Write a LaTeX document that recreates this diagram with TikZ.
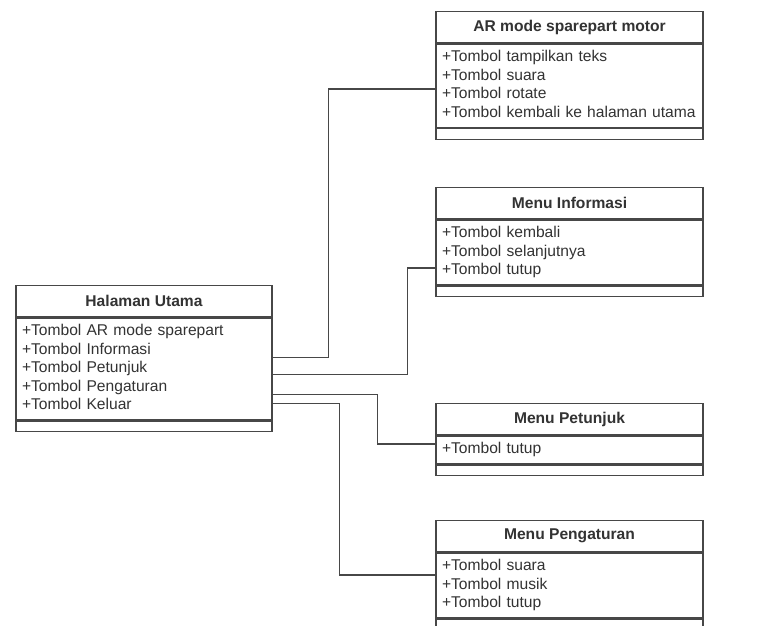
\documentclass[tikz,border=0pt]{standalone}
\usepackage{fontspec}
\setmainfont{Liberation Sans}
\usepackage{tikz}
\usetikzlibrary{positioning, calc}
\definecolor{umlline}{HTML}{474747}
\definecolor{umltext}{HTML}{333333}
\tikzset{every node/.style={font=\fontsize{15.6}{18.5}\selectfont, text=umltext}}

\begin{document}
\begin{tikzpicture}[x=1pt, y=-1pt, node distance=0pt,
    classname/.style={draw=umlline, line width=1.3pt, fill=white, anchor=north, minimum height=31pt, inner sep=0pt, font=\fontsize{15.6}{18.5}\selectfont\bfseries},
    classattr/.style={draw=umlline, line width=1.3pt, fill=white, align=left, inner xsep=6pt, inner ysep=4.75pt, execute at begin node=\strut, execute at end node=\strut},
    classops/.style={draw=umlline, line width=1.3pt, fill=white, minimum height=10.5pt, inner sep=0pt},
    link/.style={draw=umlline, line width=1.3pt}]
    \useasboundingbox (0,0) rectangle (771,626);
    \clip (0,0) rectangle (771,626);

    \node[classname, minimum width=256pt] (hu) at (144,285) {Halaman Utama};
    \node[classattr, text width=244pt, below=of hu] (hu-attr) {+Tombol AR mode sparepart\\+Tombol Informasi\\+Tombol Petunjuk\\+Tombol Pengaturan\\+Tombol Keluar};
    \node[classops, minimum width=256pt, below=of hu-attr] (hu-ops) {};

    \node[classname, minimum width=267pt] (ar) at (569.5,11) {AR mode sparepart motor};
    \node[classattr, text width=255pt, below=of ar] (ar-attr) {+Tombol tampilkan teks\\+Tombol suara\\+Tombol rotate\\+Tombol kembali ke halaman utama};
    \node[classops, minimum width=267pt, below=of ar-attr] (ar-ops) {};

    \node[classname, minimum width=267pt] (info) at (569.5,187) {Menu Informasi};
    \node[classattr, text width=255pt, below=of info] (info-attr) {+Tombol kembali\\+Tombol selanjutnya\\+Tombol tutup};
    \node[classops, minimum width=267pt, below=of info-attr] (info-ops) {};

    \node[classname, minimum width=267pt] (help) at (569.5,403) {Menu Petunjuk};
    \node[classattr, text width=255pt, below=of help] (help-attr) {+Tombol tutup};
    \node[classops, minimum width=267pt, below=of help-attr] (help-ops) {};

    \node[classname, minimum width=267pt] (set) at (569.5,520) {Menu Pengaturan};
    \node[classattr, text width=255pt, below=of set] (set-attr) {+Tombol suara\\+Tombol musik\\+Tombol tutup};
    \node[classops, minimum width=267pt, below=of set-attr] (set-ops) {};

    \draw[link] ([yshift=-40pt]hu-attr.north east) -- ++(56pt,0) |- ([yshift=-3.25pt]ar-attr.west);
    \draw[link] ([yshift=-57pt]hu-attr.north east) -- ++(135pt,0) |- ([yshift=-15.5pt]info-attr.west);
    \draw[link] ([yshift=-77pt]hu-attr.north east) -- ++(105pt,0) |- ([yshift=6pt]help-attr.west);
    \draw[link] ([yshift=-86pt]hu-attr.north east) -- ++(67pt,0) |- ([yshift=10.5pt]set-attr.west);
\end{tikzpicture}
\end{document}
